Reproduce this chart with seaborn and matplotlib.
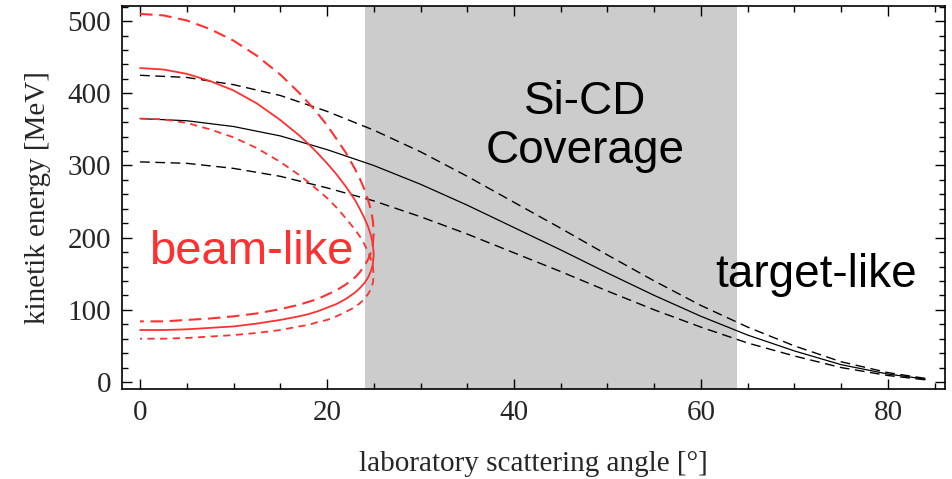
import numpy as np
import pandas as pd
import matplotlib
matplotlib.use("Agg")
import matplotlib.pyplot as plt
import seaborn as sns
from matplotlib.ticker import MultipleLocator

# ---- data ----
target_angles = [0, 5, 10, 15, 20, 25, 30, 35, 40, 45, 50, 55, 60, 65, 70, 75, 80, 84]
target_mid = [365, 362, 354, 341, 322, 300, 274, 245, 214, 183, 151, 120, 91, 65, 43, 24, 11, 4]
target_high = [425, 422, 412, 397, 375, 349, 319, 285, 249, 213, 176, 140, 106, 76, 50, 28, 13, 5]
target_low = [305, 303, 296, 285, 269, 251, 229, 205, 179, 153, 126, 100, 76, 54, 36, 20, 9, 3]

beam_angles = [0, 2.5, 5, 7.5, 10, 12.5, 15, 17, 18, 19, 20, 21, 22, 23, 23.5, 24, 24.4, 24.7, 24.9, 25]
beam_mid_upper = [435, 433, 427, 417, 404, 386, 363, 342, 330, 317, 303, 288, 271, 252, 240, 227, 215, 203, 191, 177]
beam_mid_lower = [72, 72, 73, 75, 77, 81, 86, 91, 94, 98, 103, 108, 115, 124, 130, 137, 145, 154, 163, 177]
beam_high_upper = [510, 508, 501, 489, 473, 452, 426, 401, 387, 372, 356, 337, 318, 295, 282, 267, 252, 238, 224, 207]
beam_high_lower = [84, 84, 86, 88, 91, 95, 101, 107, 111, 115, 121, 127, 135, 145, 152, 161, 170, 180, 191, 207]
beam_low_upper = [365, 364, 359, 350, 339, 324, 305, 287, 277, 266, 255, 242, 227, 211, 202, 191, 180, 170, 161, 148]
beam_low_lower = [60, 60, 61, 63, 65, 68, 72, 77, 79, 83, 86, 91, 97, 104, 109, 115, 122, 129, 137, 148]

coverage = (24.1, 63.9)
x_ticks = [0, 20, 40, 60, 80]
y_ticks = [0, 100, 200, 300, 400, 500]

RED = "#ff3030"

sns.set_theme(style="ticks")
plt.rcParams['font.family'] = ['Liberation Serif', 'DejaVu Serif']

fig = plt.figure(figsize=(9.53, 4.79), dpi=100)
ax = fig.add_axes([122 / 953, 1 - 389 / 479, (945 - 122) / 953, (389 - 6) / 479])

ax.axvspan(coverage[0], coverage[1], color="#cccccc", lw=0, zorder=0)


def loop(angles, upper, lower):
    xs = list(angles) + list(angles[::-1][1:])
    ys = list(upper) + list(lower[::-1][1:])
    return pd.DataFrame({"angle": xs, "energy": ys})


# target-like (black)
tdf = pd.DataFrame({"angle": target_angles, "mid": target_mid,
                    "high": target_high, "low": target_low})
sns.lineplot(data=tdf, x="angle", y="mid", ax=ax, color="black", lw=0.9,
             sort=False, estimator=None)
sns.lineplot(data=tdf, x="angle", y="high", ax=ax, color="black", lw=1.0,
             linestyle=(0, (7, 4)), sort=False, estimator=None)
sns.lineplot(data=tdf, x="angle", y="low", ax=ax, color="black", lw=1.0,
             linestyle=(0, (7, 4)), sort=False, estimator=None)

# beam-like (red)
sns.lineplot(data=loop(beam_angles, beam_mid_upper, beam_mid_lower), x="angle", y="energy",
             ax=ax, color=RED, lw=1.3, sort=False, estimator=None)
sns.lineplot(data=loop(beam_angles, beam_high_upper, beam_high_lower), x="angle", y="energy",
             ax=ax, color=RED, lw=1.5, linestyle=(0, (6, 3.2)), sort=False, estimator=None)
sns.lineplot(data=loop(beam_angles, beam_low_upper, beam_low_lower), x="angle", y="energy",
             ax=ax, color=RED, lw=1.3, linestyle=(0, (4, 3)), sort=False, estimator=None)

ax.set_xlim(-1.93, 86.1)
ax.set_ylim(-9.7, 521)
ax.set_xticks(x_ticks)
ax.set_yticks(y_ticks)
ax.xaxis.set_minor_locator(MultipleLocator(5))
ax.yaxis.set_minor_locator(MultipleLocator(20))
ax.tick_params(which="both", direction="in", top=True, right=True, color="black", width=1.0)
ax.tick_params(which="major", length=7, labelsize=21, pad=8)
ax.tick_params(which="minor", length=4.5)
for s in ax.spines.values():
    s.set_color("black")
    s.set_linewidth(1.2)

ax.set_xlabel("laboratory scattering angle [°]", fontsize=21, labelpad=18)
ax.set_ylabel("kinetik energy [MeV]", fontsize=21, labelpad=12)

sans = ['Liberation Sans', 'DejaVu Sans']
ax.text(11.9, 180, "beam-like", color=RED, fontsize=34, family=sans, ha="center", va="center")
ax.text(47.6, 354, "Si-CD\nCoverage", color="black", fontsize=33, family=sans,
        ha="center", va="center", linespacing=1.12)
ax.text(72.3, 148, "target-like", color="black", fontsize=33, family=sans, ha="center", va="center")

fig.savefig("out.png", dpi=100)
